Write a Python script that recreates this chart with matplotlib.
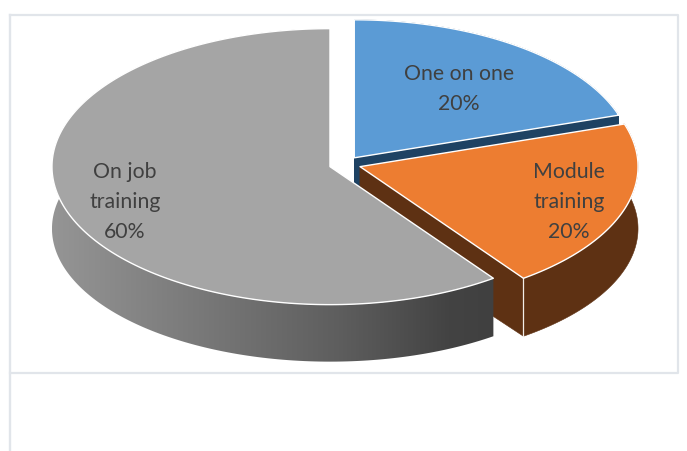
import numpy as np
import matplotlib
matplotlib.use("Agg")
import matplotlib.pyplot as plt
from matplotlib.colors import LinearSegmentedColormap
from matplotlib.patches import Polygon

# Training methods and their shares, clockwise from twelve o'clock
categories = ["One on one", "Module\ntraining", "On job\ntraining"]
shares = [20, 20, 60]
top_colors = ["#5B9BD5", "#ED7D31", "#A5A5A5"]
side_colors = ["#1E4263", "#5E3113", None]
label_xy = [(459, 89), (569, 202), (125, 202)]

# Projected pie geometry, in figure pixels
CENTER = (345.0, 165.2)
RX, RY = 278.0, 138.0
BASE_DROP, BASE_RY = 62.0, 133.0  # the far rim sits lower and flatter in perspective
EXPLODE = 15.8
INK = "#404040"
FRAME = "#E1E5EA"

plt.rcParams["font.family"] = ["Lato", "DejaVu Sans"]
fig = plt.figure(figsize=(6.87, 4.52), dpi=100)
ax = fig.add_axes([0, 0, 1, 1])
ax.set_xlim(0, 687)
ax.set_ylim(452, 0)
ax.axis("off")

# Panel frame
ax.plot([10, 10], [452, 16], color=FRAME, lw=1.7, zorder=1)
ax.plot([10, 678, 678, 10], [16, 16, 373.8, 373.8], color=FRAME, lw=1.6, zorder=1)


def rim(cx, cy, a0, a1, ry=RY, n=200):
    """Rim points for clockwise angles a0..a1 (degrees from twelve o'clock)."""
    t = np.radians(np.linspace(a0, a1, n))
    return np.column_stack([cx + RX * np.sin(t), cy - ry * np.cos(t)])


grey_ramp = LinearSegmentedColormap.from_list(
    "side", [(0, "#959595"), (0.65, "#5E5E5E"), (0.9, "#434343"), (1, "#404040")]
)

fractions = np.cumsum([0] + shares) / sum(shares)
for i, share in enumerate(shares):
    a0, a1 = 360 * fractions[i], 360 * fractions[i + 1]
    mid = np.radians((a0 + a1) / 2)
    cx = CENTER[0] + EXPLODE * np.sin(mid)
    cy = CENTER[1] - EXPLODE * 0.5 * np.cos(mid)
    z = 10 + i * 10
    apex = np.array([[cx, cy]])
    base_apex = np.array([[cx, cy + BASE_DROP]])
    arc = rim(cx, cy, a0, a1)
    base = rim(cx, cy + BASE_DROP, a0, a1, ry=BASE_RY)

    outer = np.vstack([arc, base[::-1]])
    start_face = np.vstack([apex, arc[:1], base[:1], base_apex])
    end_face = np.vstack([apex, arc[-1:], base[-1:], base_apex])

    if side_colors[i] is None:
        poly = Polygon(outer, closed=True, fc="none", ec="none", zorder=z)
        ax.add_patch(poly)
        x0, x1 = outer[:, 0].min(), cx + RX * np.sin(np.radians(a0))
        img = ax.imshow(
            np.linspace(0, 1, 256)[None, :], cmap=grey_ramp, aspect="auto",
            extent=(x0, x1, outer[:, 1].max(), outer[:, 1].min()), zorder=z,
        )
        img.set_clip_path(poly)
    else:
        for face in (start_face, outer, end_face):
            ax.add_patch(Polygon(face, closed=True, fc=side_colors[i],
                                 ec=side_colors[i], lw=0.4, zorder=z))
        # Light seam where the outer wall meets the cut face
        if i == 1:
            seam = np.vstack([arc[-1:], base[-1:]])
            ax.plot(seam[:, 0], seam[:, 1], color="#F2EDE8", lw=0.9, zorder=z + 1)

    top = np.vstack([apex, arc])
    ax.add_patch(Polygon(top, closed=True, fc=top_colors[i], ec="white",
                         lw=1.0, joinstyle="round", zorder=z + 2))

ax.set_xlim(0, 687)
ax.set_ylim(452, 0)

for name, share, (x, y) in zip(categories, shares, label_xy):
    ax.text(x, y, f"{name}\n{share}%", ha="center", va="center", color=INK,
            fontsize=15.3, linespacing=1.63, zorder=50)

fig.savefig("out.png", dpi=100)
